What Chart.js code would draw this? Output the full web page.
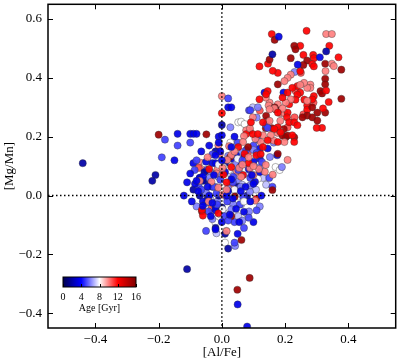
<!DOCTYPE html>
<html>
<head>
<meta charset="utf-8">
<script src="https://cdn.jsdelivr.net/npm/chart.js@4.4.1/dist/chart.umd.min.js"></script>
<style>
  html, body { margin: 0; padding: 0; background: #fff; }
  #wrap { width: 400px; height: 360px; }
</style>
</head>
<body>
<div id="wrap"><canvas id="mycanvas" width="400" height="360"></canvas></div>
<script>
// [Al/Fe], [Mg/Mn] pairs, grouped by stellar age (Gyr)
var navy = [[-0.44,0.11],[-0.21,0.07],[-0.22,0.05],[-0.11,-0.25],[0.00,0.24],[-0.02,0.15],[-0.05,0.05],[-0.06,0.05],[-0.07,0.00],[-0.01,0.00],[0.08,0.00],[0.01,0.11],[0.16,0.48],[0.33,0.49],[-0.07,0.06],[-0.03,0.03],[-0.09,0.02],[0.00,-0.04],[-0.02,-0.11],[0.02,-0.18],[-0.045,-0.01],[0.05,0.03],[-0.055,0.08],[0.01,-0.13]];
var blue = [[-0.14,0.21],[-0.10,0.21],[-0.09,0.21],[-0.08,0.21],[-0.15,0.12],[-0.09,0.11],[-0.03,0.11],[-0.02,0.11],[-0.005,0.15],[-0.01,0.20],[0.00,0.205],[0.02,0.30],[0.03,0.30],[0.04,0.20],[0.07,0.10],[0.07,0.13],[0.035,0.125],[-0.02,0.137],[-0.01,0.18],[0.045,0.137],[0.12,0.16],[0.145,0.16],[0.175,0.137],[0.12,0.125],[0.06,0.10],[0.135,0.35],[0.195,0.35],[0.18,0.54],[0.31,0.47],[0.24,0.445],[-0.07,0.06],[-0.06,0.065],[-0.085,0.04],[-0.04,0.00],[-0.02,-0.04],[-0.02,-0.05],[0.00,-0.09],[0.055,-0.09],[0.10,-0.09],[0.05,-0.13],[-0.02,-0.115],[0.05,-0.37],[0.08,-0.445],[0.105,0.047],[0.10,0.04],[0.075,0.03],[0.02,0.015],[0.03,0.055],[0.01,0.08],[0.085,0.09],[0.10,0.115],[0.12,0.08],[-0.06,-0.02],[-0.095,-0.02],[-0.12,0.00],[-0.11,0.045],[-0.10,0.075],[-0.075,0.015],[-0.035,-0.07],[0.025,-0.065],[0.07,-0.055],[0.125,0.00],[-0.065,0.15],[-0.05,0.115],[-0.08,0.05],[-0.045,0.03],[-0.025,0.07],[0.015,0.00],[0.035,-0.01],[0.06,0.015],[0.09,-0.02],[-0.06,-0.035],[-0.03,-0.025],[0.045,-0.045],[0.095,0.07],[0.03,0.165],[-0.04,0.17],[0.00,0.12]];
var midBlue = [[-0.18,0.19],[-0.10,0.18],[-0.19,0.13],[-0.14,0.17],[0.086,0.29],[0.02,0.33],[0.09,0.29],[0.05,0.18],[-0.03,0.14],[-0.05,-0.025],[0.04,-0.09],[0.07,-0.11],[-0.05,-0.12],[0.11,-0.05],[0.04,-0.16],[0.017,-0.02],[0.067,-0.003],[0.057,-0.03],[-0.073,0.03],[-0.048,0.087],[-0.086,0.087],[0.036,0.064],[0.052,0.087],[0.09,0.06],[0.15,0.06],[0.16,0.03],[0.127,0.114],[0.10,0.17],[0.077,0.155],[0.14,0.24],[0.114,0.19],[0.145,0.23],[-0.027,0.03],[-0.005,0.054],[-0.042,-0.054],[0.008,-0.07],[-0.017,0.007],[-0.065,0.02],[-0.015,-0.03],[0.02,-0.085],[0.065,0.12],[0.11,0.145],[-0.08,0.12],[0.085,-0.075],[0.035,0.045]];
var lightBlue = [[0.11,0.265],[0.23,0.42],[0.027,0.232],[0.064,0.148],[-0.036,0.08],[0.014,0.04],[0.052,0.047],[-0.061,0.007],[-0.014,-0.02],[0.036,-0.03],[0.086,-0.054],[0.12,-0.037],[-0.08,-0.037],[0.042,-0.171],[-0.03,-0.08],[0.02,0.024],[0.12,0.097],[0.152,0.131],[0.19,0.097],[0.164,0.18],[0.114,0.30],[0.045,0.108],[0.089,0.013],[-0.02,0.03],[-0.039,0.06],[0.03,-0.047],[0.00,0.07],[0.06,0.03],[0.09,0.035],[-0.05,0.01],[0.02,0.135],[0.10,0.155],[0.065,-0.085]];
var lavender = [[0.098,0.30],[0.08,-0.063],[0.008,-0.06],[-0.036,-0.013],[-0.011,0.064],[0.045,0.064],[0.02,0.114],[0.073,0.074],[0.014,-0.003],[0.13,0.06],[0.061,-0.03],[-0.017,-0.128],[0.14,0.037],[0.027,0.074],[0.064,0.037],[0.108,0.02],[0.052,-0.07]];
var white = [[0.052,0.249],[0.061,0.251],[0.072,0.243],[0.01,-0.16],[0.04,0.067],[0.005,0.037],[0.027,-0.02],[-0.005,-0.064],[0.052,-0.003],[-0.021,-0.09],[-0.052,0.109],[0.17,0.097],[0.183,0.087],[0.023,0.087],[0.114,0.057],[0.077,0.114],[0.027,0.18],[0.014,-0.12],[0.005,0.097],[0.008,0.06],[0.07,-0.02],[0.002,-0.047],[0.04,0.02],[0.015,0.055],[0.075,0.09],[0.05,0.125],[-0.01,0.105]];
var pink = [[0.00,0.338],[-0.068,0.112],[-0.014,0.088],[-0.011,0.171],[-0.006,0.142],[-0.058,0.097],[-0.017,0.075],[0.045,0.081],[0.145,0.255],[0.186,0.28],[0.198,0.28],[0.151,0.316],[0.148,0.306],[0.177,0.31],[0.177,0.213],[0.33,0.549],[0.348,0.549],[0.348,0.448],[0.354,0.44],[0.328,0.423],[0.218,0.411],[0.208,0.40],[0.198,0.389],[0.28,0.377],[0.28,0.366],[0.27,0.366],[0.26,0.383],[0.248,0.376],[0.27,0.322],[0.218,0.327],[0.202,0.316],[0.192,0.296],[0.166,0.296],[0.151,0.293],[0.139,0.333],[0.185,0.254],[0.151,0.254],[0.182,0.221],[0.198,0.182],[0.164,0.187],[0.155,0.205],[0.13,0.205],[0.123,0.182],[0.106,0.193],[0.077,0.222],[0.089,0.228],[0.07,0.202],[0.067,0.182],[0.098,0.266],[0.023,0.168],[0.03,0.138],[0.017,0.121],[0.055,0.094],[0.089,0.094],[0.136,0.081],[0.161,0.071],[0.139,0.104],[0.208,0.121],[-0.042,-0.02],[-0.033,0.047],[-0.07,0.05],[0.002,0.094],[0.015,-0.121],[0.061,0.064],[0.10,0.07],[0.117,0.09],[0.003,0.003],[0.105,-0.017],[-0.011,0.027],[0.04,0.15],[0.085,0.13],[0.015,0.02],[-0.045,0.13],[0.10,0.10],[0.065,0.105]];
var salmon = [[0.25,0.417],[0.233,0.356],[0.29,0.316],[0.258,0.276],[0.23,0.266],[0.208,0.232],[0.12,0.289],[0.083,0.148],[0.033,0.03],[-0.073,0.094],[-0.033,-0.044]];
var red = [[0.268,0.56],[0.158,0.549],[0.248,0.509],[0.146,0.448],[0.119,0.439],[0.258,0.478],[0.289,0.478],[0.291,0.467],[0.34,0.509],[0.286,0.447],[0.291,0.439],[0.369,0.47],[0.248,0.423],[0.177,0.417],[0.33,0.357],[0.338,0.318],[0.291,0.338],[0.286,0.327],[0.239,0.372],[0.248,0.35],[0.239,0.343],[0.233,0.326],[0.261,0.326],[0.27,0.306],[0.27,0.292],[0.32,0.296],[0.317,0.23],[0.30,0.23],[0.213,0.31],[0.208,0.282],[0.206,0.266],[0.213,0.249],[0.229,0.249],[0.239,0.239],[0.145,0.355],[0.14,0.344],[0.119,0.327],[0.177,0.232],[0.166,0.226],[0.186,0.215],[0.229,0.182],[0.177,0.182],[0.145,0.188],[0.00,0.28],[0.077,0.209],[0.098,0.209],[0.114,0.209],[0.03,0.097],[0.072,0.142],[0.109,0.137],[0.123,0.141],[0.005,0.071],[0.067,0.07],[0.109,-0.011],[-0.011,-0.06],[-0.06,-0.068],[-0.063,-0.048],[0.208,0.35],[0.192,0.333],[0.223,0.366],[0.13,0.249],[0.092,0.249],[0.177,0.282],[0.223,0.205],[0.13,0.165],[0.052,0.165],[0.161,0.424],[0.015,0.045],[0.085,0.11],[-0.04,0.09]];
var darkRed = [[-0.20,0.207],[-0.049,0.208],[0.167,0.529],[0.229,0.509],[0.233,0.497],[0.151,0.462],[0.218,0.467],[0.27,0.459],[0.327,0.448],[0.378,0.428],[0.327,0.397],[0.327,0.378],[0.312,0.355],[0.317,0.347],[0.378,0.329],[0.327,0.282],[0.302,0.282],[0.177,0.378],[0.258,0.444],[0.17,0.293],[0.14,0.271],[0.139,0.229],[0.196,0.226],[0.158,0.229],[0.202,0.198],[0.229,0.198],[0.192,0.204],[0.208,0.204],[0.177,0.142],[0.088,0.221],[0.167,0.30],[0.27,0.272],[0.286,0.266],[0.255,0.266],[0.302,0.255],[0.286,0.30],[0.041,-0.003],[0.03,-0.07],[0.062,-0.151],[0.088,-0.28],[0.049,-0.32],[0.16,0.019],[-0.063,-0.054],[0.026,0.131],[0.083,0.165]];

var groups = [navy, blue, midBlue, lightBlue, lavender, white, pink, salmon, red, darkRed];
var groupAges = [2, 3.5, 5, 6, 7, 8, 10, 10.8, 12, 15];

var xTicks = [-0.4, -0.2, 0.0, 0.2, 0.4];
var yTicks = [-0.4, -0.2, 0.0, 0.2, 0.4, 0.6];
var cbarTicks = [0, 4, 8, 12, 16];
var ageMax = 16;

// matplotlib "seismic"
function seismic(t) {
  var r, g, b;
  if (t < 0.25) { r = 0; g = 0; b = 0.3 + 0.7 * t / 0.25; }
  else if (t < 0.5) { var s = (t - 0.25) / 0.25; r = s; g = s; b = 1; }
  else if (t < 0.75) { var s2 = (t - 0.5) / 0.25; r = 1; g = 1 - s2; b = 1 - s2; }
  else { r = 1 - 0.5 * (t - 0.75) / 0.25; g = 0; b = 0; }
  return [Math.round(r * 255), Math.round(g * 255), Math.round(b * 255)];
}
function rgba(c, a) { return 'rgba(' + c[0] + ',' + c[1] + ',' + c[2] + ',' + a + ')'; }

// interleave the groups so no single age sits on top of all the others
var points = [];
var colors = [];
var longest = 0;
for (var i in groups) longest = Math.max(longest, groups[i].length);
for (var k = 0; k < longest; k++) {
  for (var g = 0; g < groups.length; g++) {
    var p = groups[g][k];
    if (!p) continue;
    points.push({x: p[0], y: p[1]});
    colors.push(rgba(seismic(groupAges[g] / ageMax), 0.92));
  }
}

var serif = '"Liberation Serif", "DejaVu Serif", serif';

function fmt(v) {
  return (v < 0 ? '\u2212' : '') + Math.abs(v).toFixed(1);
}

var framePlugin = {
  id: 'frame',
  afterDatasetsDraw: function(chart) {
    var ctx = chart.ctx, a = chart.chartArea;
    var xs = chart.scales.x, ys = chart.scales.y;
    ctx.save();
    // dotted zero lines
    ctx.strokeStyle = '#000';
    ctx.lineWidth = 1.5;
    ctx.setLineDash([1.5, 2.5]);
    var x0 = xs.getPixelForValue(0), y0 = ys.getPixelForValue(0);
    ctx.beginPath();
    ctx.moveTo(a.left, y0); ctx.lineTo(a.right, y0);
    ctx.moveTo(x0, a.top); ctx.lineTo(x0, a.bottom);
    ctx.stroke();
    ctx.setLineDash([]);
    // inner ticks on all sides
    ctx.lineWidth = 1;
    ctx.beginPath();
    xTicks.forEach(function(v) {
      var px = Math.round(xs.getPixelForValue(v)) + 0.5;
      ctx.moveTo(px, a.bottom); ctx.lineTo(px, a.bottom - 5);
      ctx.moveTo(px, a.top); ctx.lineTo(px, a.top + 5);
    });
    yTicks.forEach(function(v) {
      var py = Math.round(ys.getPixelForValue(v)) + 0.5;
      ctx.moveTo(a.left, py); ctx.lineTo(a.left + 5, py);
      ctx.moveTo(a.right, py); ctx.lineTo(a.right - 5, py);
    });
    ctx.stroke();
    // frame
    ctx.lineWidth = 1.5;
    ctx.strokeRect(a.left, a.top, a.right - a.left, a.bottom - a.top);

    // colour bar
    var cx = 63, cy = 277, cw = 73, ch = 10;
    var grad = ctx.createLinearGradient(cx, 0, cx + cw, 0);
    for (var k = 0; k <= 20; k++) {
      grad.addColorStop(k / 20, rgba(seismic(k / 20), 1));
    }
    ctx.fillStyle = grad;
    ctx.fillRect(cx, cy, cw, ch);
    ctx.lineWidth = 1;
    ctx.strokeStyle = '#000';
    ctx.strokeRect(cx, cy, cw, ch);
    ctx.fillStyle = '#000';
    ctx.font = '10px ' + serif;
    ctx.textAlign = 'center';
    ctx.textBaseline = 'middle';
    ctx.beginPath();
    cbarTicks.forEach(function(v) {
      var tx = cx + cw * v / ageMax;
      ctx.moveTo(Math.round(tx) + 0.5, cy + ch); ctx.lineTo(Math.round(tx) + 0.5, cy + ch - 3);
      ctx.fillText(String(v), tx, cy + ch + 10);
    });
    ctx.stroke();
    ctx.fillText('Age [Gyr]', cx + cw / 2, cy + ch + 21);
    ctx.restore();
  }
};

var ctx = document.getElementById('mycanvas');

var chart = new Chart(ctx, {
  type: 'scatter',
  data: {
    datasets: [{
      label: 'stars',
      data: points,
      backgroundColor: colors,
      borderColor: 'rgba(50,50,50,0.55)',
      borderWidth: 0.7,
      pointRadius: 3.6,
      pointHoverRadius: 3.6
    }]
  },
  options: {
    responsive: false,
    animation: false,
    events: [],
    layout: { padding: { top: 2, right: 1, left: 0, bottom: 0 } },
    plugins: { legend: { display: false }, tooltip: { enabled: false } },
    scales: {
      x: {
        type: 'linear',
        min: -0.55,
        max: 0.55,
        grid: { display: false, drawTicks: false },
        border: { display: false },
        afterBuildTicks: function(scale) { scale.ticks = xTicks.map(function(v) { return {value: v}; }); },
        afterFit: function(scale) { scale.height = 32; scale.paddingLeft = 0; scale.paddingRight = 0; },
        ticks: {
          color: '#000',
          padding: 4,
          maxRotation: 0,
          font: { family: serif, size: 13 },
          callback: function(v) { return fmt(v); }
        },
        title: { display: true, text: '[Al/Fe]', color: '#000', padding: 0, font: { family: serif, size: 13 } }
      },
      y: {
        type: 'linear',
        min: -0.45,
        max: 0.65,
        grid: { display: false, drawTicks: false },
        border: { display: false },
        afterBuildTicks: function(scale) { scale.ticks = yTicks.map(function(v) { return {value: v}; }); },
        afterFit: function(scale) { scale.width = 48; scale.paddingTop = 0; scale.paddingBottom = 0; },
        ticks: {
          color: '#000',
          padding: 6,
          font: { family: serif, size: 13 },
          callback: function(v) { return fmt(v); }
        },
        title: { display: true, text: '[Mg/Mn]', color: '#000', padding: { top: 2, bottom: 0 }, font: { family: serif, size: 13 } }
      }
    }
  },
  plugins: [framePlugin]
});
</script>
</body>
</html>
